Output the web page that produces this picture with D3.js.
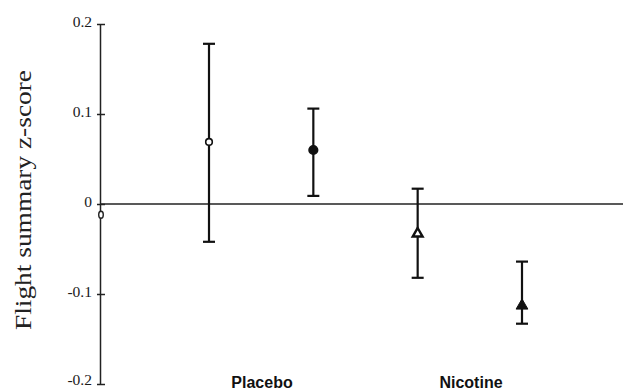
<!DOCTYPE html>
<html>
<head>
<meta charset="utf-8">
<script src="https://cdn.jsdelivr.net/npm/d3@7"></script>
<style>
  html, body { margin: 0; padding: 0; background: #fff; }
  svg { display: block; }
  .yaxis text { font-family: 'Liberation Serif', 'Times New Roman', serif; font-size: 15.5px; fill: #1a1a1a; }
</style>
</head>
<body>
<div id="chart"></div>
<script>
// -------------------- Data --------------------
const groups = ["Placebo", "Nicotine"];
const conditions = ["Placebo-low", "Placebo-high", "Nicotine-low", "Nicotine-high"];
const means = [0.069, 0.060, -0.033, -0.113];
const upper = [0.178, 0.106, 0.017, -0.064];
const lower = [-0.042, 0.009, -0.082, -0.133];
const markers = ["circle-open", "circle-filled", "triangle-open", "triangle-filled"];
const yTicks = [0.2, 0.1, 0, -0.1, -0.2];
const yTickLabels = ["0.2", "0.1", "0", "-0.1", "-0.2"];

// -------------------- SVG --------------------
const width = 623, height = 391;
const margin = { top: 24, right: 0, bottom: 7, left: 100 };

const svg = d3.select("#chart").append("svg")
  .attr("width", width)
  .attr("height", height);

const y = d3.scaleLinear().domain([-0.2, 0.2]).range([384, 24]);
const x = d3.scalePoint().domain(conditions).range([209, 522]);
const xGroup = d3.scalePoint().domain(groups).range([262, 471]);

// -------------------- Axis --------------------
const yAxis = d3.axisLeft(y)
  .tickValues(yTicks)
  .tickFormat((d, i) => yTickLabels[i])
  .tickSizeInner(-5)
  .tickSizeOuter(0)
  .tickPadding(8);

const gy = svg.append("g")
  .attr("class", "yaxis")
  .attr("transform", `translate(${margin.left},0)`)
  .call(yAxis)
  .attr("font-size", null)
  .attr("font-family", null);
gy.select(".domain").attr("stroke", "#222").attr("stroke-width", 1.5);
gy.selectAll(".tick line").attr("x1", -3).attr("x2", 5).attr("stroke", "#222").attr("stroke-width", 1.5);
gy.selectAll(".tick text")
  .attr("x", -8)
  .attr("fill", null)
  .attr("dy", (d, i) => i === yTicks.length - 1 ? "0.05em" : "0.15em");

// zero reference line
svg.append("line")
  .attr("x1", margin.left).attr("x2", width)
  .attr("y1", y(0)).attr("y2", y(0))
  .attr("stroke", "#222").attr("stroke-width", 1.3);

// small mark on axis below zero
svg.append("ellipse")
  .attr("cx", margin.left + 1).attr("cy", y(-0.012))
  .attr("rx", 2.3).attr("ry", 3.5)
  .attr("fill", "#fff").attr("stroke", "#222").attr("stroke-width", 1.4);

// y label
svg.append("text")
  .attr("transform", `translate(31,${(y(0.2) + y(-0.2)) / 2 - 4}) rotate(-90)`)
  .attr("text-anchor", "middle")
  .attr("textLength", 260)
  .attr("lengthAdjust", "spacingAndGlyphs")
  .style("font-family", "'Liberation Serif', 'Times New Roman', serif")
  .style("font-size", "23px")
  .attr("fill", "#222")
  .text("Flight summary z-score");

// group labels
svg.append("g").selectAll("text")
  .data(groups)
  .join("text")
  .attr("x", d => xGroup(d))
  .attr("y", 388)
  .attr("text-anchor", "middle")
  .style("font-family", "'Liberation Sans', Arial, sans-serif")
  .style("font-weight", "bold")
  .style("font-size", "16px")
  .attr("fill", "#111")
  .text(d => d);

// -------------------- Error bars --------------------
const bars = svg.append("g")
  .attr("stroke", "#111")
  .attr("stroke-width", 2.2);

conditions.forEach((c, i) => {
  const cx = x(c);
  bars.append("line").attr("x1", cx).attr("x2", cx).attr("y1", y(upper[i])).attr("y2", y(lower[i]));
  bars.append("line").attr("x1", cx - 6).attr("x2", cx + 6).attr("y1", y(upper[i])).attr("y2", y(upper[i]));
  bars.append("line").attr("x1", cx - 6).attr("x2", cx + 6).attr("y1", y(lower[i])).attr("y2", y(lower[i]));
});

// -------------------- Markers --------------------
const pts = svg.append("g");
conditions.forEach((c, i) => {
  const cx = x(c), cy = y(means[i]);
  const m = markers[i];
  if (m.startsWith("circle")) {
    pts.append("circle")
      .attr("cx", cx).attr("cy", cy)
      .attr("r", m === "circle-open" ? 3.3 : 4.3)
      .attr("fill", m === "circle-open" ? "#fff" : "#111")
      .attr("stroke", "#111").attr("stroke-width", 1.6);
  } else {
    pts.append("path")
      .attr("transform", `translate(${cx},${cy})`)
      .attr("d", d3.symbol(d3.symbolTriangle, m === "triangle-open" ? 42 : 60)())
      .attr("fill", m === "triangle-open" ? "#fff" : "#111")
      .attr("stroke", "#111").attr("stroke-width", m === "triangle-open" ? 2.4 : 1);
  }
});
</script>
</body>
</html>
